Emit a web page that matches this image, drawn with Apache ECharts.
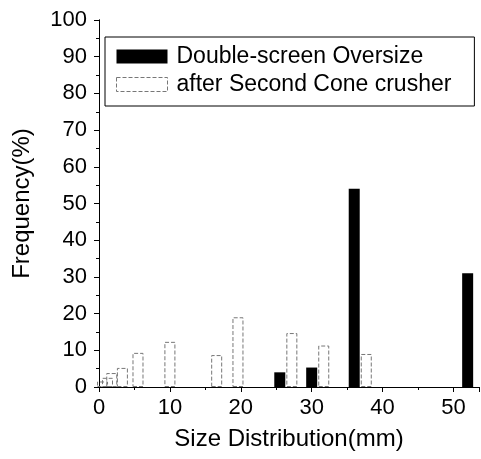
<!DOCTYPE html>
<html>
<head>
<meta charset="utf-8">
<script src="https://cdn.jsdelivr.net/npm/echarts@6/dist/echarts.min.js"></script>
<style>
  html, body { margin: 0; padding: 0; background: #fff; }
  #main { width: 481px; height: 459px; }
</style>
</head>
<body>
<div id="main"></div>
<script>
// size classes (mm) and frequencies (%)
const oversizeSize = [25.5, 30, 36, 52];
const oversizeFreq = [4, 5.3, 54, 31];
const coneSize = [0.5, 1.2, 1.8, 3.3, 5.5, 10, 16.6, 19.6, 27.2, 31.7, 37.7];
const coneFreq = [1.5, 2.5, 3.8, 5.2, 9.3, 12.3, 8.7, 19, 14.7, 11.3, 9];
const seriesNames = ['Double-screen Oversize', 'after Second Cone crusher'];

const pairs = (xs, ys) => xs.map((x, i) => [x, ys[i]]);

const font = 'Liberation Sans, Arial, sans-serif';
const chart = echarts.init(document.getElementById('main'));

const frameAxis = {
  axisLine: { show: true, lineStyle: { color: '#000', width: 1 } },
  splitLine: { show: false }
};

chart.setOption({
  animation: false,
  grid: { left: 99, right: 2, top: 20, bottom: 72 },
  legend: {
    orient: 'vertical',
    left: 105,
    top: 37,
    padding: [8, 23, 10, 11],
    itemWidth: 51,
    itemHeight: 14,
    itemGap: 5,
    borderColor: '#000',
    borderWidth: 1,
    textStyle: { fontFamily: font, fontSize: 23, color: '#000', padding: [0, 0, 0, 4] },
    data: [
      { name: seriesNames[0], icon: 'rect', itemStyle: { color: '#000' } },
      { name: seriesNames[1], icon: 'rect', itemStyle: { color: '#fff', borderColor: '#777', borderWidth: 1, borderType: 'dashed' } }
    ]
  },
  xAxis: [
    Object.assign({}, frameAxis, {
      type: 'value', min: 0, max: 53.6, interval: 10,
      name: 'Size Distribution(mm)', nameLocation: 'middle', nameGap: 40,
      nameTextStyle: { fontFamily: font, fontSize: 24, color: '#000' },
      axisTick: { show: true, inside: false, length: 5, lineStyle: { color: '#000' } },
      minorTick: { show: true, splitNumber: 2, length: 3, lineStyle: { color: '#000' } },
      axisLabel: { fontFamily: font, fontSize: 22, color: '#000', margin: 10, showMaxLabel: false }
    }),
    Object.assign({}, frameAxis, {
      type: 'value', min: 0, max: 53.6, interval: 10, position: 'top',
      axisTick: { show: true, inside: true, length: 5, lineStyle: { color: '#000' } },
      minorTick: { show: true, splitNumber: 2, length: 3, lineStyle: { color: '#000' } },
      axisLabel: { show: false }
    })
  ],
  yAxis: [
    Object.assign({}, frameAxis, {
      type: 'value', min: 0, max: 100, interval: 10,
      name: 'Frequency(%)', nameLocation: 'middle', nameGap: 65,
      nameTextStyle: { fontFamily: font, fontSize: 24, color: '#000' },
      axisTick: { show: true, inside: false, length: 5, lineStyle: { color: '#000' } },
      minorTick: { show: true, splitNumber: 2, length: 3, lineStyle: { color: '#000' } },
      axisLabel: { fontFamily: font, fontSize: 22, color: '#000', margin: 12 }
    }),
    Object.assign({}, frameAxis, {
      type: 'value', min: 0, max: 100, interval: 10, position: 'right',
      axisTick: { show: true, inside: true, length: 5, lineStyle: { color: '#000' } },
      minorTick: { show: true, splitNumber: 2, length: 3, lineStyle: { color: '#000' } },
      axisLabel: { show: false }
    })
  ],
  series: [
    {
      name: seriesNames[0],
      type: 'bar',
      barWidth: 11,
      barGap: '-100%',
      itemStyle: { color: '#000' },
      data: pairs(oversizeSize, oversizeFreq)
    },
    {
      name: seriesNames[1],
      type: 'bar',
      barWidth: 11,
      barGap: '-100%',
      itemStyle: { color: 'rgba(255,255,255,0)', borderColor: '#777', borderWidth: 1, borderType: 'dashed' },
      data: pairs(coneSize, coneFreq)
    }
  ]
});
</script>
</body>
</html>
